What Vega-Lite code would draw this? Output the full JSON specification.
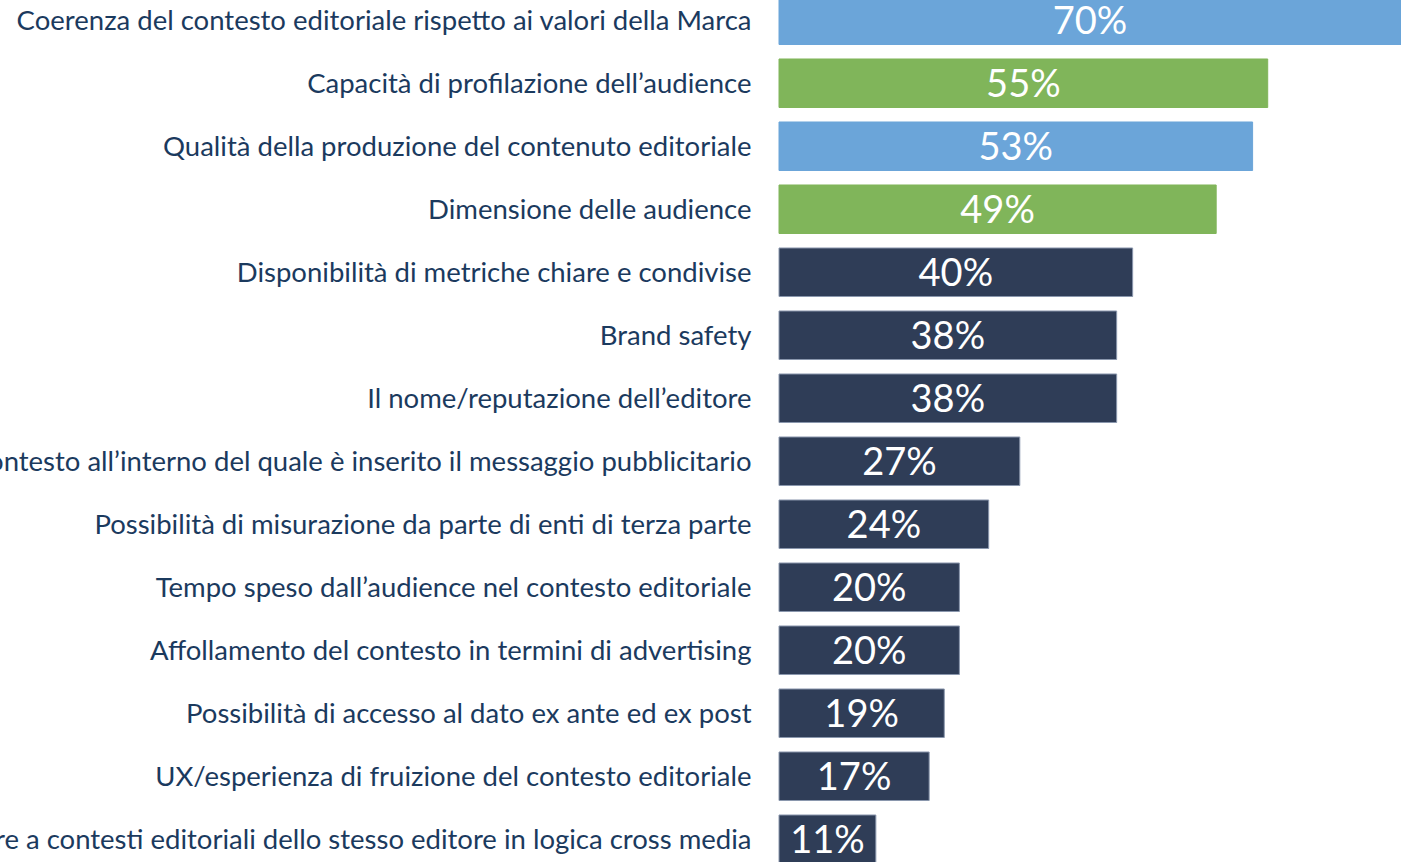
{
  "$schema": "https://vega.github.io/schema/vega-lite/v6.json",
  "autosize": {"type": "none"},
  "padding": {"left": 779, "top": 0, "right": 0, "bottom": 0},
  "width": 622,
  "height": 862,
  "background": "white",
  "config": {"view": {"stroke": null}, "font": "Lato"},
  "data": {
    "values": [
      {"label": "Coerenza del contesto editoriale rispetto ai valori della Marca", "value": 0.70, "group": "blue"},
      {"label": "Capacità di profilazione dell’audience", "value": 0.550, "group": "green"},
      {"label": "Qualità della produzione del contenuto editoriale", "value": 0.533, "group": "blue"},
      {"label": "Dimensione delle audience", "value": 0.492, "group": "green"},
      {"label": "Disponibilità di metriche chiare e condivise", "value": 0.398, "group": "dark"},
      {"label": "Brand safety", "value": 0.380, "group": "dark"},
      {"label": "Il nome/reputazione dell’editore", "value": 0.380, "group": "dark"},
      {"label": "Il contesto all’interno del quale è inserito il messaggio pubblicitario", "value": 0.271, "group": "dark"},
      {"label": "Possibilità di misurazione da parte di enti di terza parte", "value": 0.236, "group": "dark"},
      {"label": "Tempo speso dall’audience nel contesto editoriale", "value": 0.203, "group": "dark"},
      {"label": "Affollamento del contesto in termini di advertising", "value": 0.203, "group": "dark"},
      {"label": "Possibilità di accesso al dato ex ante ed ex post", "value": 0.186, "group": "dark"},
      {"label": "UX/esperienza di fruizione del contesto editoriale", "value": 0.169, "group": "dark"},
      {"label": "Possibilità di estendere a contesti editoriali dello stesso editore in logica cross media", "value": 0.109, "group": "dark"}
    ]
  },
  "transform": [{"calculate": "datum.value / 2", "as": "mid"}],
  "encoding": {
    "y": {
      "field": "label",
      "type": "nominal",
      "sort": null,
      "scale": {"range": [-4, 863.5], "paddingInner": 0.23, "paddingOuter": 0},
      "axis": {
        "title": null,
        "domain": false,
        "ticks": false,
        "labelPadding": 28,
        "labelOffset": 1.5,
        "labelFontSize": 27.5,
        "labelColor": "#1B3A5E",
        "labelLimit": 0,
        "labelFont": "Lato"
      }
    }
  },
  "layer": [
    {
      "mark": {"type": "bar", "strokeWidth": 1},
      "encoding": {
        "x": {"field": "value", "type": "quantitative", "scale": {"domain": [0, 0.7], "nice": false}, "axis": null},
        "color": {
          "field": "group",
          "type": "nominal",
          "scale": {"domain": ["blue", "green", "dark"], "range": ["#6BA5D9", "#80B55A", "#2F3D57"]},
          "legend": null
        },
        "stroke": {
          "field": "group",
          "type": "nominal",
          "scale": {"domain": ["blue", "green", "dark"], "range": ["#6BA5D9", "#80B55A", "#8a97ad"]},
          "legend": null
        }
      }
    },
    {
      "mark": {"type": "text", "color": "white", "fontSize": 38, "font": "Lato", "align": "center", "baseline": "middle", "dy": 3},
      "encoding": {
        "x": {"field": "mid", "type": "quantitative"},
        "text": {"field": "value", "type": "quantitative", "format": ".0%"}
      }
    }
  ]
}
